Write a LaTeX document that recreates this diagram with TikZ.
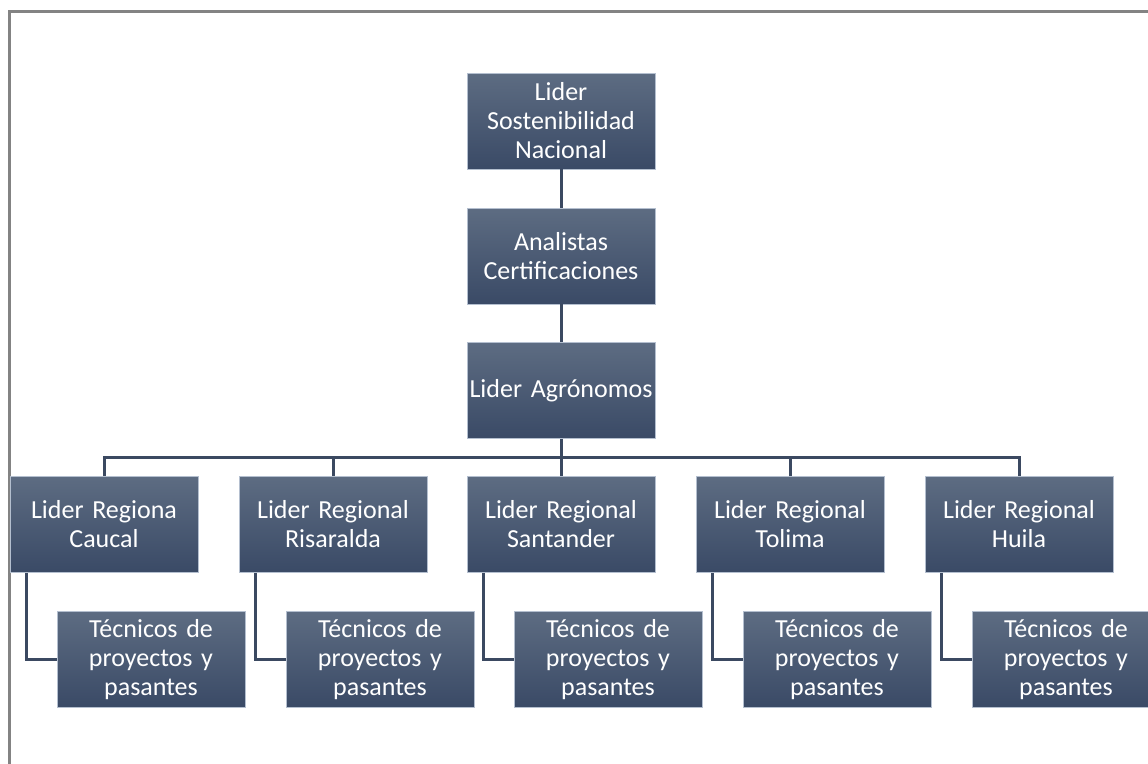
\documentclass[tikz,border=0pt]{standalone}
\usepackage{fontspec}
\setmainfont{Carlito}
\definecolor{boxtop}{HTML}{5D6C82}
\definecolor{boxbot}{HTML}{3A4A66}
\definecolor{boxedge}{HTML}{B4BFCF}
\definecolor{linkc}{HTML}{3B4961}
\definecolor{framec}{HTML}{838383}
\tikzset{
  orgbox/.style={rectangle, minimum width=188pt, minimum height=96pt, inner sep=1pt,
    text width=186pt, align=center, top color=boxtop, bottom color=boxbot,
    draw=boxedge, line width=0.8pt, text=white, font=\fontsize{26}{29}\selectfont},
  link/.style={draw=linkc, line width=3pt},
}
\begin{document}
\begin{tikzpicture}[x=1pt,y=-1pt]
\useasboundingbox (0,0) rectangle (1148,763);
\clip (0,0) rectangle (1148,763);
\draw[framec, line width=3pt] (9.5,770) -- (9.5,11.5) -- (1160,11.5);
\node[orgbox] (top) at (561,121) {Lider\\Sostenibilidad\\Nacional};
\node[orgbox] (ana) at (561,256) {Analistas\\Certificaciones};
\node[orgbox] (agr) at (561,390.5) {Lider Agrónomos};
\coordinate (bar) at (561,457);
\foreach \i/\x/\t in {1/104/{Lider Regiona\\Caucal},2/333/{Lider Regional\\Risaralda},3/561/{Lider Regional\\Santander},4/790/{Lider Regional\\Tolima},5/1019/{Lider Regional\\Huila}}{
  \node[orgbox] (r\i) at (\x,524.5) {\t};
  \node[orgbox] (t\i) at (\x+47,659.5) {Técnicos de\\proyectos y\\pasantes};
}
\draw[link] (top.south) -- (ana.north);
\draw[link] (ana.south) -- (agr.north);
\draw[link] (agr.south) -- (r3.north);
\draw[link] (r1.north) |- (bar) -| (r5.north);
\foreach \i in {2,4}{
  \draw[link] (r\i.north) -- (r\i.north |- bar);
}
\foreach \i in {1,...,5}{
  \draw[link] ([xshift=17pt]r\i.south west) |- (t\i.west);
}
\end{tikzpicture}
\end{document}
